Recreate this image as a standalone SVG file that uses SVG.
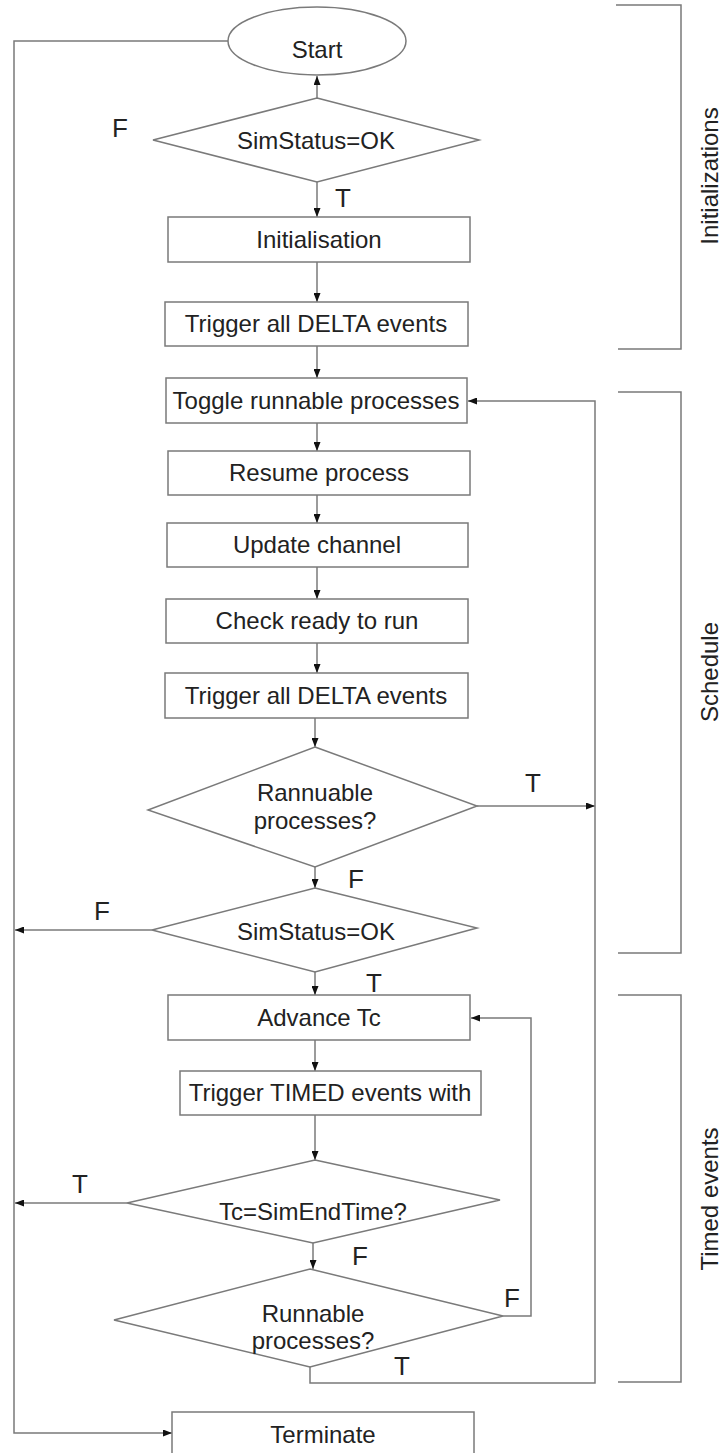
<svg xmlns="http://www.w3.org/2000/svg" width="726" height="1453" viewBox="0 0 726 1453">
<style>
.n{fill:#fff;stroke:#7a7a7a;stroke-width:1.5}
.t{font-family:"Liberation Sans",Arial,sans-serif;font-size:24px;fill:#222;text-anchor:middle}
.l{font-family:"Liberation Sans",Arial,sans-serif;font-size:26px;fill:#222}
.c{fill:none;stroke:#7a7a7a;stroke-width:1.5}
.b{fill:none;stroke:#7a7a7a;stroke-width:1.5}
</style>
<defs>
<marker id="ah" markerWidth="9" markerHeight="7" refX="9" refY="3.5" orient="auto" markerUnits="userSpaceOnUse">
<path d="M0,0 L9,3.5 L0,7 Z" fill="#111"/>
</marker>
</defs>
<g id="connectors">
<path class="c" d="M317,98 V76" marker-end="url(#ah)"/>
<path class="c" d="M317,182 V217" marker-end="url(#ah)"/>
<path class="c" d="M317,262 V302" marker-end="url(#ah)"/>
<path class="c" d="M317,346 V378" marker-end="url(#ah)"/>
<path class="c" d="M317,423 V451" marker-end="url(#ah)"/>
<path class="c" d="M317,495 V523" marker-end="url(#ah)"/>
<path class="c" d="M317,567 V599" marker-end="url(#ah)"/>
<path class="c" d="M317,643 V673" marker-end="url(#ah)"/>
<path class="c" d="M315,718 V747" marker-end="url(#ah)"/>
<path class="c" d="M315,867 V888" marker-end="url(#ah)"/>
<path class="c" d="M315,972 V995" marker-end="url(#ah)"/>
<path class="c" d="M315,1040 V1071" marker-end="url(#ah)"/>
<path class="c" d="M315,1115 V1160" marker-end="url(#ah)"/>
<path class="c" d="M313,1243 V1269" marker-end="url(#ah)"/>
<path class="c" d="M477,806 H595" marker-end="url(#ah)"/>
<path class="c" d="M310,1367 V1383 H595 V401 H468" marker-end="url(#ah)"/>
<path class="c" d="M503,1316 H531 V1018 H471" marker-end="url(#ah)"/>
<path class="c" d="M152,930 H15" marker-end="url(#ah)"/>
<path class="c" d="M127,1203 H15" marker-end="url(#ah)"/>
<path class="c" d="M228,41 H14 V1433 H172" marker-end="url(#ah)"/>
</g>
<g id="brackets">
<path class="b" d="M616,5 H681 V349 H618"/>
<path class="b" d="M618,392 H681 V953 H618"/>
<path class="b" d="M618,995 H681 V1382 H618"/>
<text class="t" transform="translate(718,176) rotate(-90)">Initializations</text>
<text class="t" transform="translate(718,672) rotate(-90)">Schedule</text>
<text class="t" transform="translate(718,1199) rotate(-90)">Timed events</text>
</g>
<g id="start">
<ellipse class="n" cx="317" cy="41" rx="89" ry="34"/>
<text class="t" x="317" y="58">Start</text>
</g>
<g id="dec-simstatus1">
<polygon class="n" points="317,98 479,140 317,182 153,140"/>
<text class="t" x="316" y="149">SimStatus=OK</text>
</g>
<g id="initialisation">
<rect class="n" x="168" y="217" width="302" height="45"/>
<text class="t" x="319" y="248">Initialisation</text>
</g>
<g id="trigger-delta1">
<rect class="n" x="165" y="302" width="303" height="44"/>
<text class="t" x="316" y="332">Trigger all DELTA events</text>
</g>
<g id="toggle">
<rect class="n" x="166" y="378" width="301" height="45"/>
<text class="t" x="316" y="409">Toggle runnable processes</text>
</g>
<g id="resume">
<rect class="n" x="168" y="451" width="302" height="44"/>
<text class="t" x="319" y="481">Resume process</text>
</g>
<g id="update">
<rect class="n" x="167" y="523" width="301" height="44"/>
<text class="t" x="317" y="553">Update channel</text>
</g>
<g id="check">
<rect class="n" x="166" y="599" width="302" height="44"/>
<text class="t" x="317" y="629">Check ready to run</text>
</g>
<g id="trigger-delta2">
<rect class="n" x="165" y="673" width="303" height="45"/>
<text class="t" x="316" y="704">Trigger all DELTA events</text>
</g>
<g id="dec-runnable1">
<polygon class="n" points="315,747 477,806 315,867 148,810"/>
<text class="t" x="315" y="801">Rannuable</text>
<text class="t" x="315" y="829">processes?</text>
</g>
<g id="dec-simstatus2">
<polygon class="n" points="315,888 477,928 315,972 152,930"/>
<text class="t" x="316" y="940">SimStatus=OK</text>
</g>
<g id="advance">
<rect class="n" x="168" y="995" width="302" height="45"/>
<text class="t" x="319" y="1026">Advance Tc</text>
</g>
<g id="trigger-timed">
<rect class="n" x="180" y="1071" width="301" height="44"/>
<text class="t" x="330" y="1101">Trigger TIMED events with</text>
</g>
<g id="dec-endtime">
<polygon class="n" points="315,1160 500,1200 313,1243 127,1203"/>
<text class="t" x="313" y="1220">Tc=SimEndTime?</text>
</g>
<g id="dec-runnable2">
<polygon class="n" points="310,1269 503,1316 310,1367 114,1320"/>
<text class="t" x="313" y="1322">Runnable</text>
<text class="t" x="313" y="1349">processes?</text>
</g>
<g id="terminate">
<rect class="n" x="172" y="1412" width="302" height="46"/>
<text class="t" x="323" y="1443">Terminate</text>
</g>
<g id="labels">
<text class="l" x="112" y="137">F</text>
<text class="l" x="335" y="207">T</text>
<text class="l" x="525" y="792">T</text>
<text class="l" x="348" y="888">F</text>
<text class="l" x="94" y="920">F</text>
<text class="l" x="366" y="992">T</text>
<text class="l" x="72" y="1193">T</text>
<text class="l" x="352" y="1265">F</text>
<text class="l" x="504" y="1307">F</text>
<text class="l" x="394" y="1375">T</text>
</g>
</svg>
